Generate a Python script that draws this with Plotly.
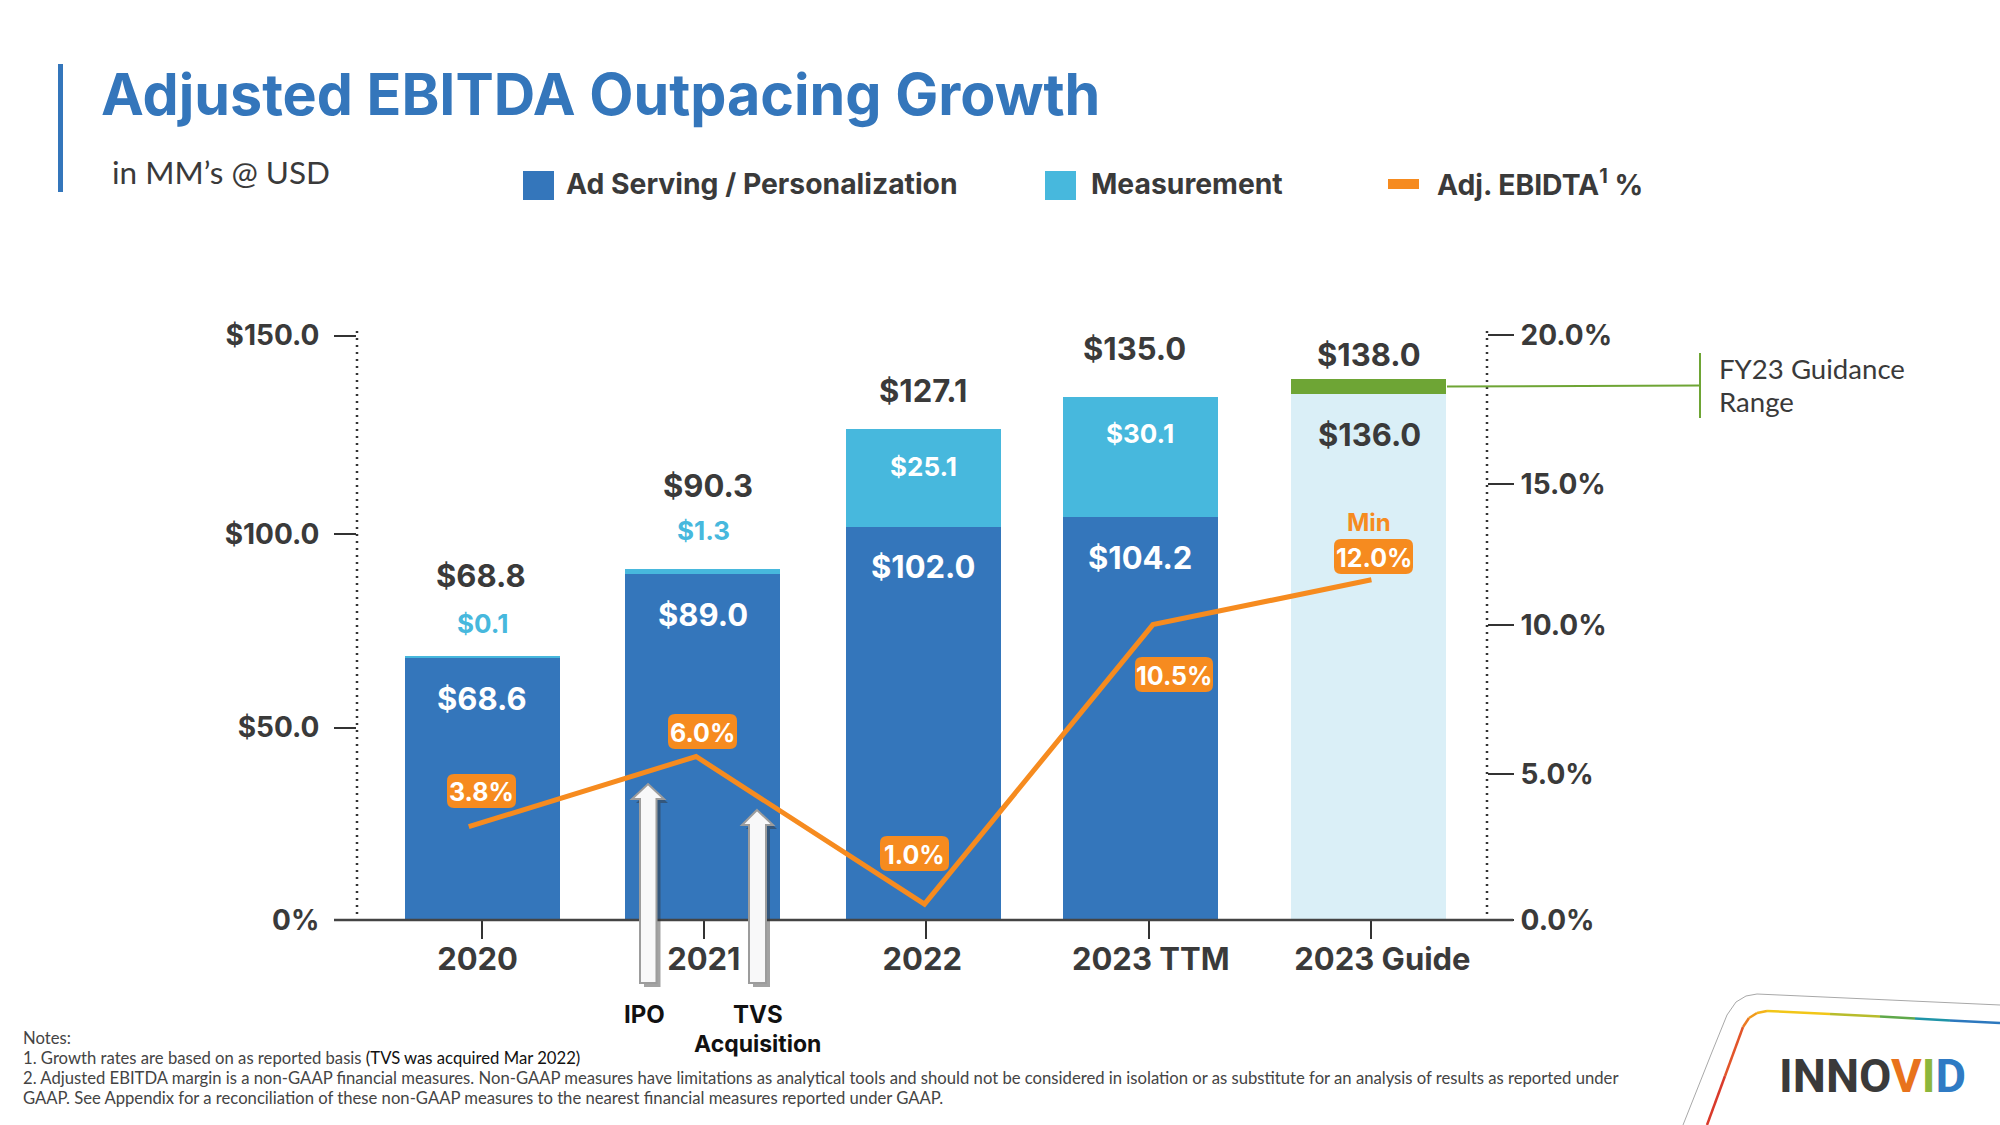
import plotly.graph_objects as go

# ---------- data ----------
categories = ["2020", "2021", "2022", "2023 TTM", "2023 Guide"]
label_pos = [-0.02, 1.005, 1.995, 3.03, 4.08]
tick_pos = [0, 1.004, 2.01, 3.02, 4.03]
bar_pos = [0, 1, 2, 2.984, 4.019]
line_pos = [-0.06, 0.97, 2.005, 3.04, 4.03]
ad_serving = [67.9, 89.4, 101.6, 104.2, None]
measurement = [0.1, 1.3, 25.4, 31.0, None]
guide_floor = [None, None, None, None, 135.9]
guide_range = [None, None, None, None, 3.9]
margin_drawn = [3.17, 5.55, 0.54, 10.03, 11.55]
margin_labels = ["3.8%", "6.0%", "1.0%", "10.5%", "12.0%"]
left_ticks = [0, 49.7, 99.7, 151.0]
left_tick_text = ["0%", "$50.0", "$100.0", "$150.0"]
right_ticks = [0, 4.95, 10.02, 14.8, 19.85]
right_tick_text = ["0.0%", "5.0%", "10.0%", "15.0%", "20.0%"]
total_labels = ["$68.8", "$90.3", "$127.1", "$135.0", "$138.0"]

BLUE, CYAN, PALE, GREEN, ORANGE, INK = "#3476BB", "#47B8DD", "#DAEFF7", "#6EA535", "#F68B1F", "#3A3A3A"
FONT = "Lato"
NUM = "Inter"

# ---------- page geometry ----------
W, H = 2000, 1125
L, R, T, B = 357, 1487, 320, 920
def px(x): return (x - L) / (R - L)
def py(y): return (B - y) / (B - T)

XR = [-0.5664, 4.5537]
shapes, notes = [], []

def text(x, y, s, size, color=INK, bold=False, anchor="center", font=FONT):
    notes.append(dict(xref="paper", yref="paper", x=px(x), y=py(y), text=f"<b>{s}</b>" if bold else s,
                      showarrow=False, xanchor=anchor, yanchor="middle", align="left",
                      font=dict(family=font, size=size, color=color)))

def rect(x0, y0, x1, y1, color):
    shapes.append(dict(type="rect", xref="paper", yref="paper", x0=px(x0), x1=px(x1), y0=py(y1), y1=py(y0),
                       fillcolor=color, line_width=0))

def seg(x0, y0, x1, y1, color, width=2, dash=None):
    line = dict(color=color, width=width)
    if dash:
        line["dash"] = dash
    shapes.append(dict(type="line", xref="paper", yref="paper", x0=px(x0), x1=px(x1), y0=py(y0), y1=py(y1), line=line))

def poly(pts, fill, line=None, width=0):
    d = "M " + " L ".join(f"{px(a):.5f},{py(b):.5f}" for a, b in pts) + " Z"
    shapes.append(dict(type="path", xref="paper", yref="paper", path=d, fillcolor=fill,
                       line=dict(color=line or fill, width=width)))

def badge(x0, y0, x1, y1, s, size=25, r=7):
    a, b, c, e = px(x0), py(y0), px(x1), py(y1)
    rx, ry = r / (R - L), r / (B - T)
    d = (f"M {a+rx},{b} L {c-rx},{b} Q {c},{b} {c},{b-ry} L {c},{e+ry} Q {c},{e} {c-rx},{e} "
         f"L {a+rx},{e} Q {a},{e} {a},{e+ry} L {a},{b-ry} Q {a},{b} {a+rx},{b} Z")
    shapes.append(dict(type="path", xref="paper", yref="paper", path=d, fillcolor=ORANGE, line_width=0))
    text((x0 + x1) / 2, (y0 + y1) / 2 + 1, s, size, "white", True, font=NUM)

def arrow(tip_x, tip_y, neck_y, head_l, head_r, sh_l, sh_r, bottom):
    pts = [(tip_x, tip_y), (head_r, neck_y), (sh_r, neck_y), (sh_r, bottom), (sh_l, bottom), (sh_l, neck_y), (head_l, neck_y)]
    poly([(a + 4, b + 4) for a, b in pts], "rgba(50,50,50,0.45)")
    poly(pts, "#F8F8F9", "#9C9C9C", 2)

# header
rect(58, 64, 63, 192, BLUE)
text(99, 94, "Adjusted EBITDA Outpacing Growth", 57.4, BLUE, True, "left", NUM)
text(110, 172, "in MM’s @ USD", 31.5, INK, False, "left")
rect(523, 171, 554, 200, BLUE)
text(564, 184, "Ad Serving / Personalization", 28.3, INK, True, "left", NUM)
rect(1045, 171, 1076, 200, CYAN)
text(1089, 184, "Measurement", 28.3, INK, True, "left", NUM)
rect(1388, 179, 1419, 189, ORANGE)
text(1435, 183, "Adj. EBIDTA<sup>1</sup> %", 28.3, INK, True, "left", NUM)

# axes furniture
seg(L, 331, L, B, "#333333", 2.5, "2px,5px")
seg(R, 331, R, B, "#333333", 2.5, "2px,5px")
seg(334, B, 1513, B, "#444444", 2.5)

# guidance callout
seg(1447, 386.5, 1700, 385.5, GREEN, 2)
seg(1700, 353, 1700, 418, GREEN, 2)
text(1717, 368, "FY23 Guidance", 27.6, INK, False, "left")
text(1717, 401, "Range", 27.6, INK, False, "left")

# totals
tot_xy = [(481, 575), (708, 485), (923, 390), (1134, 348), (1369, 354)]
for (x, y), s in zip(tot_xy, total_labels):
    text(x, y, s, 31, INK, True, font=NUM)

# segment labels
text(482, 623.5, "$0.1", 26, CYAN, True, font=NUM)
text(703, 530.5, "$1.3", 26, CYAN, True, font=NUM)
text(923, 466, "$25.1", 26, "white", True, font=NUM)
text(1140, 433, "$30.1", 26, "white", True, font=NUM)
text(482, 698.5, "$68.6", 31, "white", True, font=NUM)
text(703, 614, "$89.0", 31, "white", True, font=NUM)
text(923, 566, "$102.0", 31, "white", True, font=NUM)
text(1140, 557, "$104.2", 31, "white", True, font=NUM)
text(1369, 434, "$136.0", 31, INK, True, font=NUM)
text(1369, 522, "Min", 24, ORANGE, True, font=NUM)

# margin badges
badge(447, 774, 516, 808, margin_labels[0])
badge(668, 714, 737, 749, margin_labels[1])
badge(880, 836, 949, 871, margin_labels[2])
badge(1135, 657, 1213, 692, margin_labels[3])
badge(1334, 539, 1413, 574, margin_labels[4])

# event arrows
arrow(648, 784, 799, 632, 664, 640, 656.5, 983)
arrow(757, 810, 825, 742, 773, 749, 766, 983)
text(644, 1015, "IPO", 24, "#111111", True, font=NUM)
text(757.5, 1014, "TVS", 24, "#111111", True, font=NUM)
text(757.5, 1044, "Acquisition", 23, "#111111", True, font=NUM)

# notes
NC = "#444444"
text(21, 1038, "Notes:", 16.66, NC, False, "left")
text(21, 1058, "1. Growth rates are based on as reported basis <span style='color:#111111'>(TVS was acquired Mar 2022)</span>", 16.66, NC, False, "left")
text(21, 1078, "2. Adjusted EBITDA margin is a non-GAAP financial measures. Non-GAAP measures have limitations as analytical tools and should not be considered in isolation or as substitute for an analysis of results as reported under", 16.66, NC, False, "left")
text(21, 1098, "GAAP. See Appendix for a reconciliation of these non-GAAP measures to the nearest financial measures reported under GAAP.", 16.66, NC, False, "left")

# corner tab and logo
for a, b, c, d in [(1683, 1125, 1712, 1052), (1712, 1052, 1727, 1015), (1727, 1015, 1736, 1002), (1736, 1002, 1746, 996),
                   (1746, 996, 1757, 994), (1757, 994, 2000, 1005)]:
    seg(a, b, c, d, "#A8A8A8", 1)
rainbow = [((1707, 1125), (1725, 1076), "#D93A2B"), ((1725, 1076), (1743, 1027), "#E2552A"),
           ((1743, 1027), (1749, 1018), "#EC7A22"), ((1749, 1018), (1757, 1013), "#F09A1C"),
           ((1757, 1013), (1767, 1011), "#F4B31A"), ((1767, 1011), (1830, 1014), "#F2C618"),
           ((1830, 1014), (1880, 1016.5), "#B7BC2C"), ((1880, 1016.5), (1915, 1018.5), "#5FA84A"),
           ((1915, 1018.5), (1950, 1020.5), "#1F94A8"), ((1950, 1020.5), (2000, 1023), "#2C78BE")]
for p, q, c in rainbow:
    seg(p[0], p[1], q[0], q[1], c, 2.5)
text(1777, 1075,
     "INNO<span style='color:#E8731C'>V</span><span style='color:#8DB63C'>I</span><span style='color:#2F7BC4'>D</span>",
     47, "#3A3A3A", True, "left", "Roboto")

# ---------- figure ----------
fig = go.Figure()
BW = 0.7023
fig.add_bar(name="Ad Serving / Personalization", x=bar_pos, y=ad_serving, width=BW, marker=dict(color=BLUE, line_width=0))
fig.add_bar(name="Measurement", x=bar_pos, y=measurement, width=BW, marker=dict(color=CYAN, line_width=0))
fig.add_bar(name="Guide minimum", x=bar_pos, y=guide_floor, width=BW, marker=dict(color=PALE, line_width=0))
fig.add_bar(name="Guide range", x=bar_pos, y=guide_range, width=BW, marker=dict(color=GREEN, line_width=0))
fig.add_scatter(name="Adj. EBITDA %", x=line_pos, y=margin_drawn, mode="lines", xaxis="x2", yaxis="y2",
                line=dict(color=ORANGE, width=5))

axis_font = dict(family=NUM, size=28, color=INK, weight=700)
fig.update_layout(
    width=W, height=H, margin=dict(l=L, r=W - R, t=T, b=H - B, autoexpand=False),
    paper_bgcolor="white", plot_bgcolor="rgba(0,0,0,0)", barmode="stack", showlegend=False,
    shapes=shapes, annotations=notes,
    xaxis=dict(range=XR, tickmode="array", tickvals=label_pos, ticktext=categories, ticks="", showgrid=False,
               zeroline=False, showline=False, ticklabelstandoff=18,
               tickfont=dict(family=NUM, size=31, color=INK, weight=700)),
    xaxis2=dict(range=XR, overlaying="x", anchor="y2", side="bottom", tickmode="array", tickvals=tick_pos,
                ticks="outside", ticklen=18, tickwidth=2, tickcolor="#333333", showticklabels=False,
                showgrid=False, zeroline=False, showline=False),
    yaxis=dict(range=[0, 155.04], tickmode="array", tickvals=left_ticks, ticktext=left_tick_text, ticks="outside",
               ticklen=22, tickwidth=2, tickcolor="#333333", showgrid=False, zeroline=False, showline=False,
               ticklabelstandoff=9, tickfont=axis_font),
    yaxis2=dict(range=[0, 20.37], overlaying="y", anchor="x2", side="right", tickmode="array", tickvals=right_ticks,
                ticktext=right_tick_text, ticks="outside", ticklen=26, tickwidth=2, tickcolor="#333333",
                showgrid=False, zeroline=False, showline=False, ticklabelstandoff=1, tickfont=axis_font),
)
fig.write_html("out.html", config=dict(displayModeBar=False),
               post_script="document.body.style.margin='0';document.body.style.overflow='hidden';")
